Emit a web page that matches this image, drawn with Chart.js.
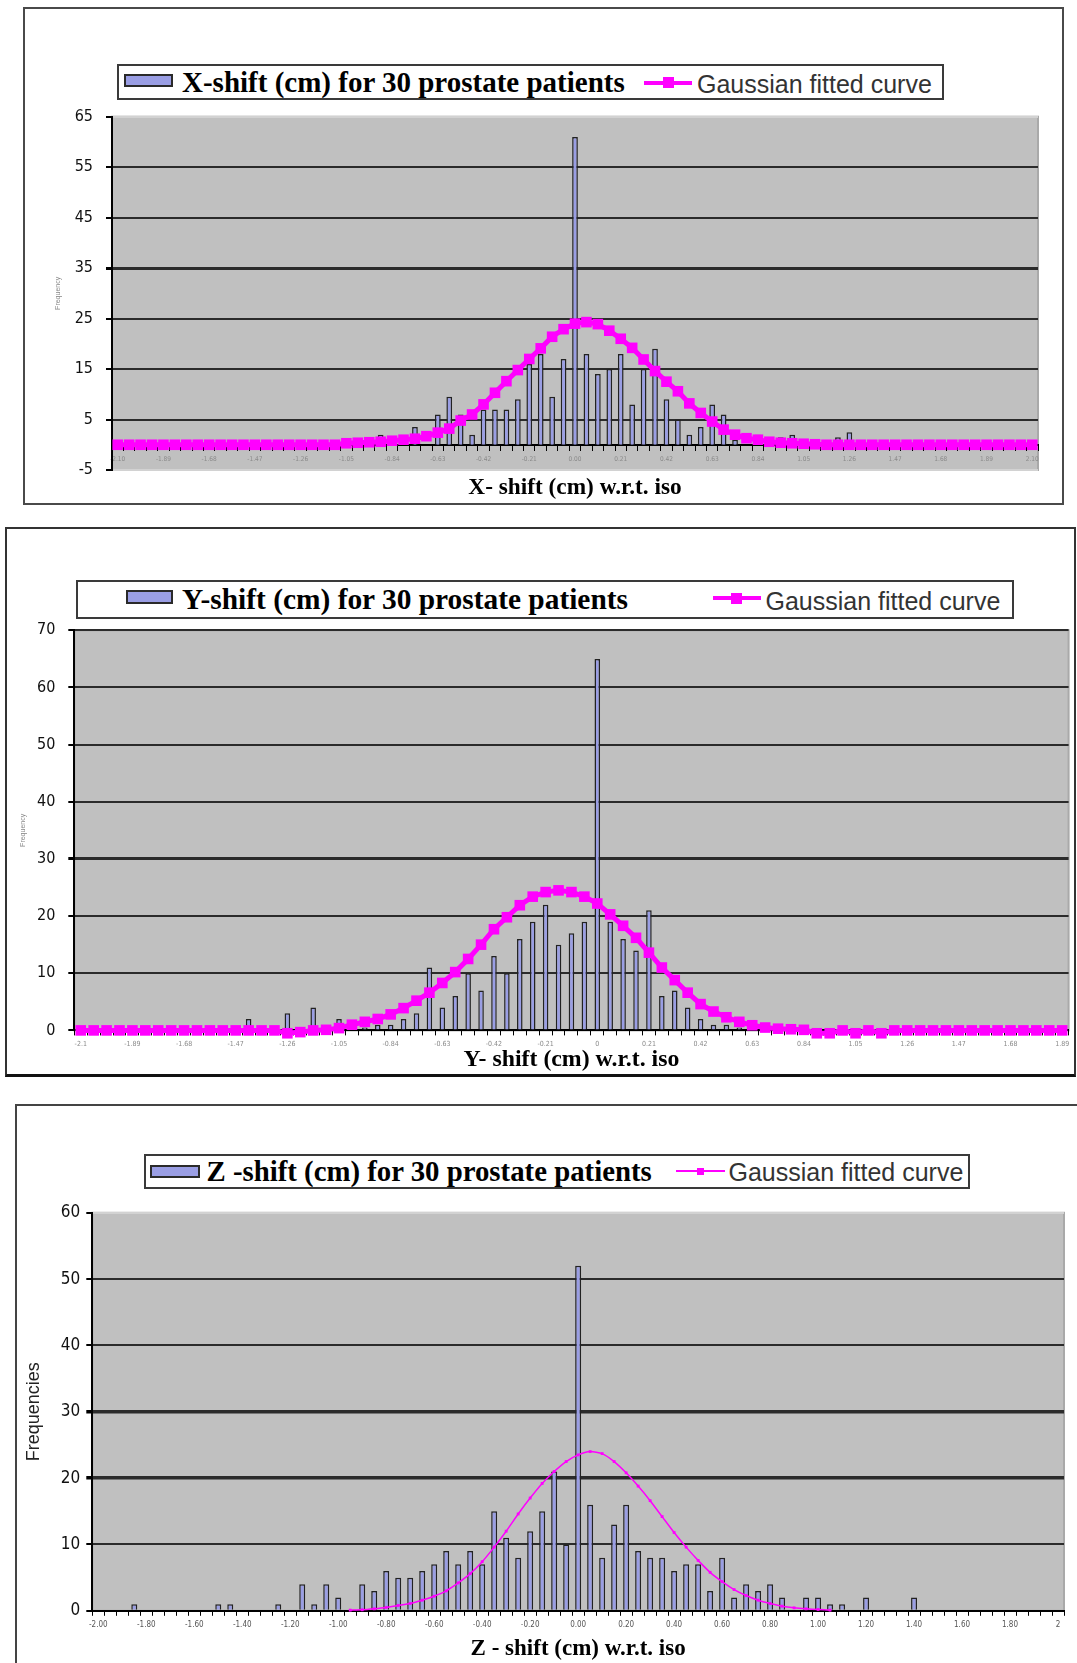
<!DOCTYPE html>
<html><head><meta charset="utf-8">
<script src="https://cdn.jsdelivr.net/npm/chart.js@4.4.1/dist/chart.umd.min.js"></script>
<style>
html,body{margin:0;padding:0;background:#fff;}
body{width:1077px;height:1663px;position:relative;overflow:hidden;}
.panel{position:absolute;box-sizing:border-box;}
canvas{position:absolute;left:0;}
.legend{position:absolute;box-sizing:border-box;border:2px solid #3a3a3a;background:#fff;z-index:2;}
.legend .sw{position:absolute;box-sizing:border-box;background:#9A9EE4;border:2px solid #2a2a2a;}
.legend .t1{position:absolute;top:0;white-space:nowrap;font-family:'Liberation Serif','Times New Roman',serif;font-weight:bold;color:#000;}
.legend .t2{position:absolute;white-space:nowrap;font-family:'Liberation Sans',Arial,sans-serif;color:#333;}
.legend .ln{position:absolute;background:#FF00FF;}
.legend .mk{position:absolute;background:#FF00FF;}
</style></head>
<body>
<div class="panel" style="left:23px;top:7px;width:1041px;height:498px;border:2px solid #4a4a4a;"></div>
<div class="panel" style="left:5px;top:527px;width:1071px;height:550px;border:2px solid #333;border-bottom:3px solid #111;"></div>
<div class="panel" style="left:15px;top:1104px;width:1100px;height:700px;border-top:2px solid #444;border-left:2px solid #444;"></div>

<div class="legend" style="left:117px;top:64px;width:827px;height:36px;">
  <div class="sw" style="left:5px;top:8px;width:49px;height:13px;"></div>
  <div class="t1" style="left:63px;font-size:29px;line-height:32px;">X-shift (cm) for 30 prostate patients</div>
  <div class="ln" style="left:525px;top:14.5px;width:48px;height:4px;"></div>
  <div class="mk" style="left:543.5px;top:11px;width:11px;height:11px;"></div>
  <div class="t2" style="left:578px;top:2px;font-size:25px;line-height:32px;">Gaussian fitted curve</div>
</div>
<div class="legend" style="left:76px;top:580px;width:938px;height:39px;">
  <div class="sw" style="left:48px;top:8px;width:47px;height:14px;"></div>
  <div class="t1" style="left:104px;font-size:29.4px;line-height:35px;">Y-shift (cm) for 30 prostate patients</div>
  <div class="ln" style="left:634.5px;top:14px;width:48px;height:4px;"></div>
  <div class="mk" style="left:653px;top:10.5px;width:11px;height:11px;"></div>
  <div class="t2" style="left:687.5px;top:2px;font-size:25px;line-height:35px;">Gaussian fitted curve</div>
</div>
<div class="legend" style="left:144px;top:1154px;width:826px;height:35px;">
  <div class="sw" style="left:3.5px;top:8.5px;width:50px;height:13px;"></div>
  <div class="t1" style="left:60.5px;font-size:28.8px;line-height:31px;">Z -shift (cm) for 30 prostate patients</div>
  <div class="ln" style="left:529.5px;top:14px;width:49px;height:2px;"></div>
  <div class="mk" style="left:551px;top:11.5px;width:7px;height:7px;"></div>
  <div class="t2" style="left:582.5px;top:1px;font-size:25px;line-height:31px;">Gaussian fitted curve</div>
</div>

<canvas id="cX" width="1077" height="540" style="top:0px;"></canvas>
<canvas id="cY" width="1077" height="560" style="top:520px;"></canvas>
<canvas id="cZ" width="1077" height="573" style="top:1090px;"></canvas>

<script>
// ================= DATA =================
function makeBins(start, step, n) {           // category (bin) names on the x axis
  const out = [];
  for (let i = 0; i < n; i++) out.push((start + i * step).toFixed(4));
  return out;
}
const xShiftCats = makeBins(-2.10, 0.0525, 81);
const yShiftCats = makeBins(-2.10, 0.0525, 77);
const zShiftCats = makeBins(-2.00, 0.05, 81);

// tick labels shown on every 4th category
const xTickLabels = ['-2.10','-1.89','-1.68','-1.47','-1.26','-1.05','-0.84','-0.63','-0.42','-0.21','0.00',
                     '0.21','0.42','0.63','0.84','1.05','1.26','1.47','1.68','1.89','2.10'];
const yTickLabels = ['-2.1','-1.89','-1.68','-1.47','-1.26','-1.05','-0.84','-0.63','-0.42','-0.21','0',
                     '0.21','0.42','0.63','0.84','1.05','1.26','1.47','1.68','1.89'];
const zTickLabels = ['-2.00','-1.80','-1.60','-1.40','-1.20','-1.00','-0.80','-0.60','-0.40','-0.20','0.00',
                     '0.20','0.40','0.60','0.80','1.00','1.20','1.40','1.60','1.80','2'];

// frequency axis ticks
const xFreqTicks = [-5, 5, 15, 25, 35, 45, 55, 65];
const yFreqTicks = [0, 10, 20, 30, 40, 50, 60, 70];
const zFreqTicks = [0, 10, 20, 30, 40, 50, 60];

// X-shift histogram and Gaussian fit
const xCounts = [
  0,0,0,0,0,0,0,0,0,0,
  0,0,0,0,0,0,0,0,0,0,
  0,0,0,2,0,0,3.5,0,6,9.5,
  6,2,7,7,7,9,16,18,9.5,17,
  61,18,14,15,18,8,15,19,9,5,
  2,3.5,8,6,1,0,2,0,1.5,2,
  0,0,0,1.5,2.5,0,0,0,0,0,
  0,0,0,0,0,0,0,0,0,0,
  0];
const xGauss = [
  0,0,0,0,0,0,0,0,0,0,
  0,0,0,0,0,0,0,0,0,0,
  0.3,0.4,0.5,0.6,0.8,1.0,1.2,1.7,2.4,3.2,
  4.8,6.0,8.0,10.3,12.6,14.8,17.0,19.1,21.4,22.9,
  24.0,24.3,23.9,22.6,21.0,19.2,16.9,14.6,12.5,10.6,
  8.2,6.3,4.6,3.0,2.0,1.3,1.0,0.6,0.4,0.3,
  0.2,0.1,0,0,0,0,0,0,0,0,
  0,0,0,0,0,0,0,0,0,0,
  0];

// Y-shift histogram and Gaussian fit
const yCounts = [
  0,0,0,0,0,0,0,0,0,0,
  0,0,0,2,0,0,3,0,4,0,
  2,0,0.5,1,1,2,3,11,4,6,
  10,7,13,10,16,19,22,15,17,19,
  65,19,16,14,21,6,7,4,2,1,
  1,0.5,0,0,0,0,0,0,0,0,
  0,0,0,0,0,0,0,0,0,0,
  0,0,0,0,0,0,0];
const yGauss = [
  0,0,0,0,0,0,0,0,0,0,
  0,0,0,0,0,0,-0.5,-0.3,0,0.1,
  0.4,1.0,1.5,2.0,2.8,3.9,5.2,6.6,8.3,10.2,
  12.5,15.0,17.7,19.8,21.9,23.4,24.2,24.5,24.2,23.4,
  22.2,20.3,18.3,16.2,13.6,11.0,8.8,6.6,4.6,3.3,
  2.3,1.5,0.9,0.5,0.3,0.2,0.1,-0.5,-0.5,0,
  -0.5,0,-0.5,0,0,0,0,0,0,0,
  0,0,0,0,0,0,0];

// Z-shift histogram and Gaussian fit
const zCounts = [
  0,0,0,1,0,0,0,0,0,0,
  1,1,0,0,0,1,0,4,1,4,
  2,0,4,3,6,5,5,6,7,9,
  7,9,7,15,11,8,12,15,21,10,
  52,16,8,13,16,9,8,8,6,7,
  7,3,8,2,4,3,4,2,0,2,
  2,1,1,0,2,0,0,0,2,0,
  0,0,0,0,0,0,0,0,0,0,
  0];
const zGauss = [
  null,null,null,null,null,null,null,null,null,null,
  null,null,null,null,null,null,null,null,null,null,
  null,0.1,0.15,0.3,0.5,0.8,1.1,1.6,2.2,3.0,
  4.2,5.6,7.4,9.6,12.0,14.6,17.0,19.2,21.0,22.5,
  23.5,24.0,23.7,22.5,20.8,18.8,16.6,14.2,11.8,9.6,
  7.6,5.8,4.4,3.2,2.3,1.6,1.1,0.7,0.45,0.3,
  0.2,0.1,null,null,null,null,null,null,null,null,
  null,null,null,null,null,null,null,null,null,null,
  null];

// ================= RENDER =================
const NARROW = "'Liberation Sans Narrow','DejaVu Sans Condensed','Liberation Sans',sans-serif";
const SANS = "'Liberation Sans',Arial,sans-serif";
const SERIF = "'Liberation Serif','Times New Roman',serif";

const plotBg = {
  id: 'plotBg',
  beforeDraw(chart) {
    const {ctx, chartArea: a} = chart;
    ctx.save();
    ctx.fillStyle = '#C0C0C0';
    ctx.fillRect(a.left, a.top, a.right - a.left, a.bottom - a.top);
    ctx.strokeStyle = '#a9a9a9';
    ctx.lineWidth = 2;
    ctx.strokeRect(a.left, a.top, a.right - a.left, a.bottom - a.top);
    ctx.restore();
  }
};

function makeChart(id, p) {
  return new Chart(document.getElementById(id), {
    type: 'bar',
    data: {
      labels: p.cats,
      datasets: [
        {
          type: 'line', label: 'Gaussian fitted curve', data: p.gauss,
          borderColor: '#FF00FF', backgroundColor: '#FF00FF', borderWidth: p.lineW,
          pointStyle: 'rect', pointRadius: p.ptR, pointBorderWidth: 0,
          pointBackgroundColor: '#FF00FF', pointBorderColor: '#FF00FF',
          tension: p.tension, order: 0, clip: false, spanGaps: false
        },
        {
          type: 'bar', label: p.barLabel, data: p.counts.map(v => v === 0 ? null : v),
          backgroundColor: '#9A9EE4', borderColor: '#222', borderWidth: 1.5,
          barPercentage: p.barPct, categoryPercentage: 1, order: 1
        }
      ]
    },
    options: {
      responsive: false, animation: false, events: [],
      layout: { padding: p.pad },
      plugins: { legend: { display: false }, tooltip: { enabled: false }, title: { display: false } },
      scales: {
        x: {
          type: 'category', position: p.xPos, offset: true,
          grid: { display: true, drawOnChartArea: false, drawTicks: true, tickLength: 5, color: '#000', lineWidth: 1, offset: true },
          border: { display: true, color: '#000', width: 2 },
          ticks: {
            autoSkip: false, maxRotation: 0, minRotation: 0, padding: p.xTickPad,
            color: p.xTickColor, font: { family: NARROW, size: p.xTickSize },
            callback: (v, i) => (i % 4 === 0 && p.tickLabels[i / 4] !== undefined) ? p.tickLabels[i / 4] : ''
          },
          title: { display: true, text: p.xTitle, color: '#000', font: { family: SERIF, weight: 'bold', size: p.xTitleSize }, padding: { top: 0, bottom: p.xTitlePadB } },
          afterFit: (s) => { s.height = p.xH; }
        },
        y: {
          type: 'linear', min: p.yMin, max: p.yMax,
          afterBuildTicks: (s) => { s.ticks = p.yTicks.map(v => ({ value: v })); },
          grid: {
            color: (c) => p.gridColor(c.tick ? c.tick.value : null),
            lineWidth: (c) => p.gridW(c.tick ? c.tick.value : null),
            tickColor: '#000', tickLength: 6, drawTicks: true
          },
          border: { display: true, color: '#000', width: 2 },
          ticks: { padding: p.yTickPad, color: '#111', font: { family: NARROW, size: p.yTickSize }, callback: (v) => String(v) },
          title: { display: true, text: p.yTitle, color: p.yTitleColor, font: { family: SANS, size: p.yTitleSize }, padding: { top: p.yTitlePadT, bottom: 0 } },
          afterFit: (s) => { s.width = p.yW; }
        }
      }
    },
    plugins: [plotBg]
  });
}

makeChart('cX', {
  cats: xShiftCats, gauss: xGauss, counts: xCounts, barLabel: 'X-shift (cm) for 30 prostate patients',
  lineW: 5, ptR: 7.5, tension: 0, barPct: 0.5,
  pad: { left: 20, right: 39, top: 116.7, bottom: 70 },
  xPos: { y: 0 }, xTickPad: 5.6, xTickSize: 6.5, xTickColor: '#8a8a8a', tickLabels: xTickLabels,
  xTitle: 'X- shift (cm) w.r.t. iso', xTitleSize: 23.3, xTitlePadB: 3, xH: 60,
  yMin: -5, yMax: 65, yTicks: xFreqTicks,
  gridColor: (v) => (v === 65 || v === -5) ? '#d2d2d2' : '#2b2b2b',
  gridW: (v) => v === 35 ? 3 : 2,
  yTickPad: 13, yTickSize: 16, yTitle: 'Frequency', yTitleColor: '#8a8a8a', yTitleSize: 7, yTitlePadT: 33.8, yW: 92
});

makeChart('cY', {
  cats: yShiftCats, gauss: yGauss, counts: yCounts, barLabel: 'Y-shift (cm) for 30 prostate patients',
  lineW: 5, ptR: 7.5, tension: 0, barPct: 0.43,
  pad: { left: 5, right: 8.4, top: 110.3, bottom: 4.6 },
  xPos: 'bottom', xTickPad: 4.4, xTickSize: 7, xTickColor: '#8a8a8a', tickLabels: yTickLabels,
  xTitle: 'Y- shift (cm) w.r.t. iso', xTitleSize: 23.8, xTitlePadB: 1.6, xH: 45,
  yMin: 0, yMax: 70, yTicks: yFreqTicks,
  gridColor: (v) => '#2b2b2b',
  gridW: (v) => v === 30 ? 3 : 2,
  yTickPad: 13, yTickSize: 16, yTitle: 'Frequency', yTitleColor: '#8a8a8a', yTitleSize: 7, yTitlePadT: 13.8, yW: 69.3
});

makeChart('cZ', {
  cats: zShiftCats, gauss: zGauss, counts: zCounts, barLabel: 'Z -shift (cm) for 30 prostate patients',
  lineW: 1.5, ptR: 2, tension: 0.2, barPct: 0.5,
  pad: { left: 5, right: 13, top: 122.8, bottom: 0 },
  xPos: 'bottom', xTickPad: 4.2, xTickSize: 8, xTickColor: '#555', tickLabels: zTickLabels,
  xTitle: 'Z - shift (cm) w.r.t. iso', xTitleSize: 23, xTitlePadB: 0, xH: 52.2,
  yMin: 0, yMax: 60, yTicks: zFreqTicks,
  gridColor: (v) => v === 60 ? '#d2d2d2' : '#2b2b2b',
  gridW: (v) => (v === 30 || v === 20) ? 3.5 : 2,
  yTickPad: 6, yTickSize: 17, yTitle: 'Frequencies', yTitleColor: '#222', yTitleSize: 18, yTitlePadT: 18.2, yW: 87.3
});
</script>
</body></html>
